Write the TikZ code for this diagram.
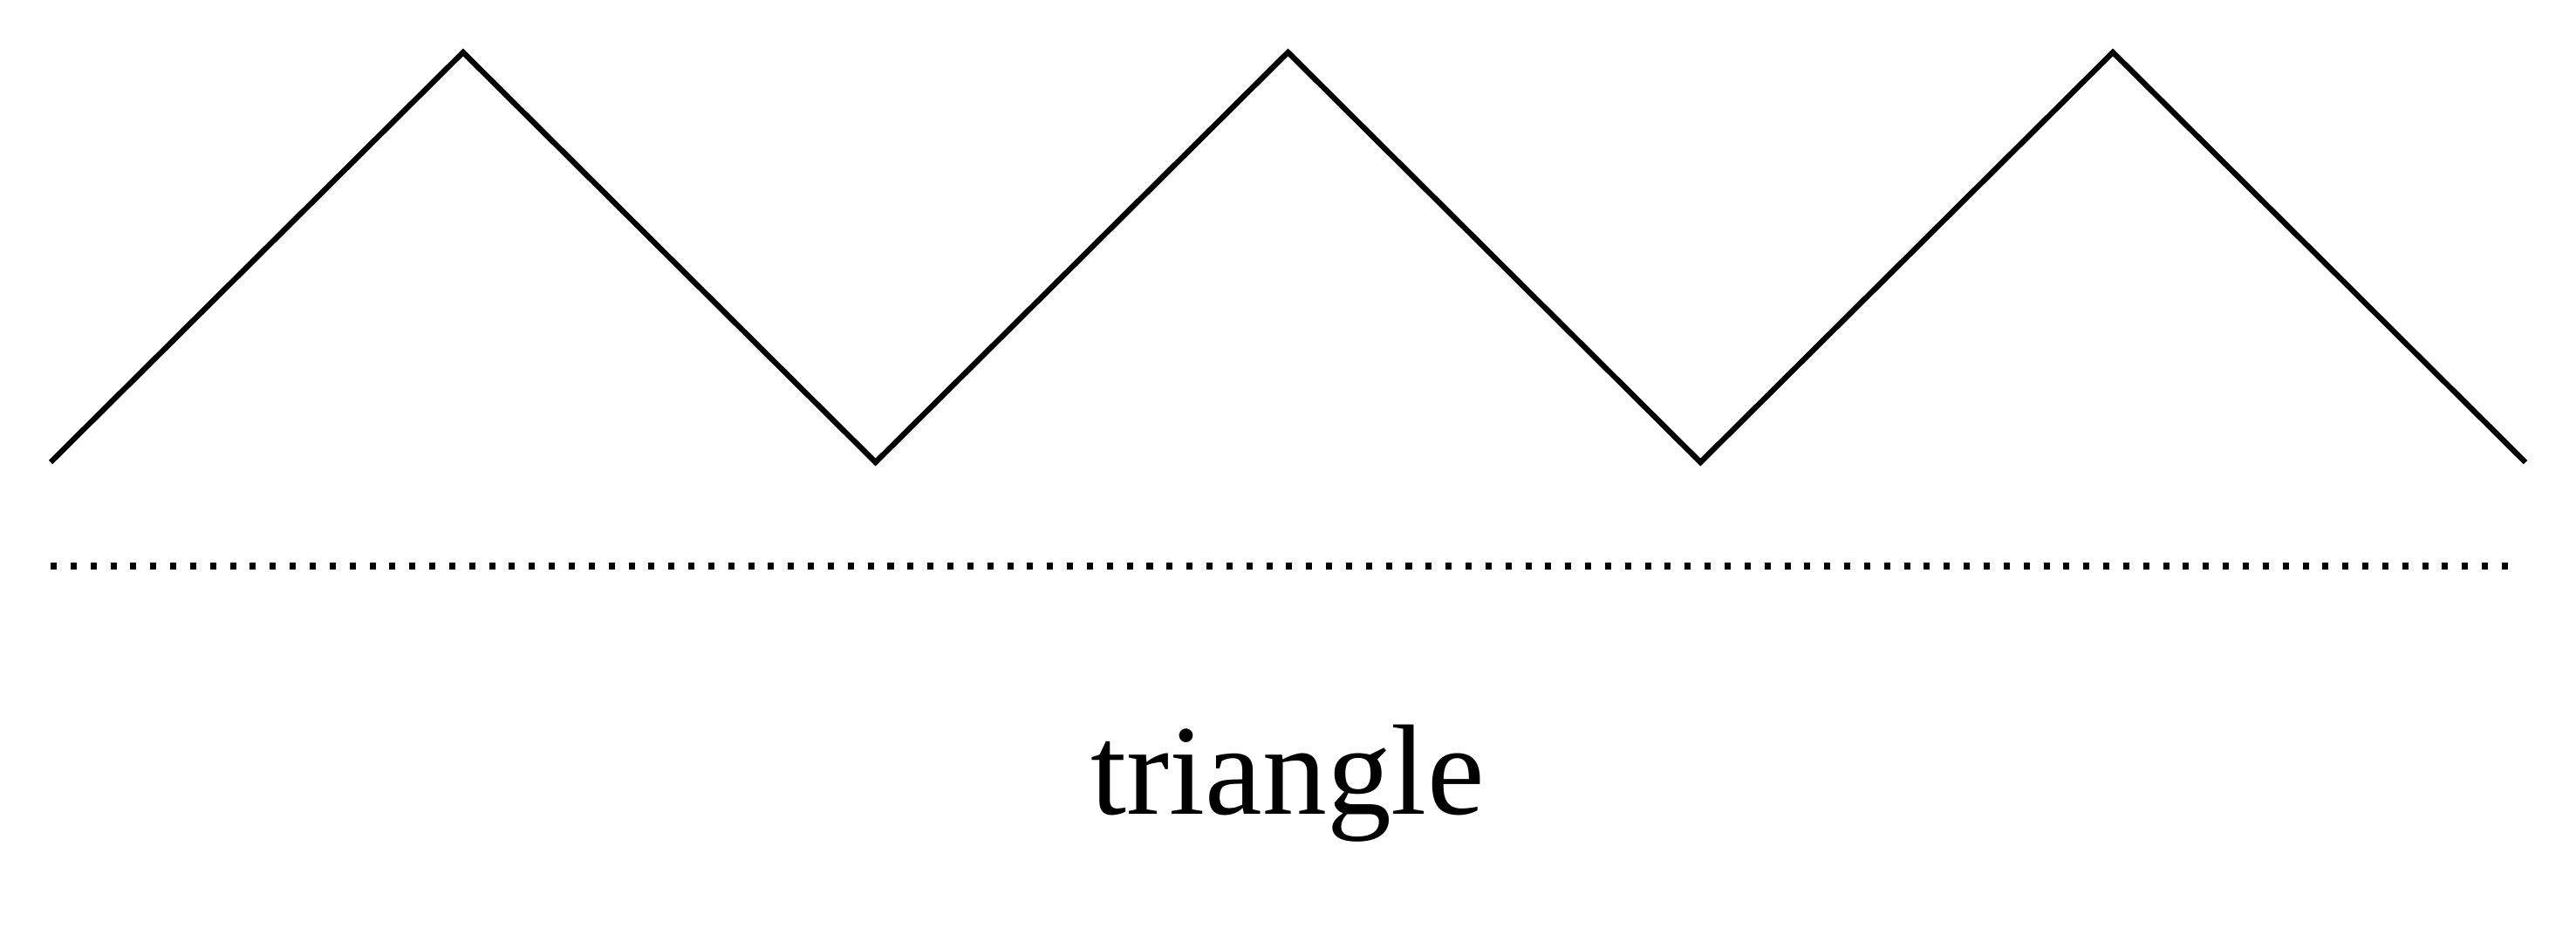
\documentclass[tikz,border=0pt]{standalone}
\usepackage{fontspec}
\setmainfont{Liberation Serif}
\begin{document}
\begin{tikzpicture}[wave/.style={line width=1.8pt,line join=miter},
    guide/.style={line width=2pt,dash pattern=on 2pt off 4.5pt},
    lbl/.style={anchor=base,inner sep=0pt,font=\fontsize{42}{46}\selectfont}]
    \useasboundingbox (0,0) rectangle (29.53,-10.72);

    % corners of the wave
    \foreach \i in {0,...,6} {
      \pgfmathsetmacro{\xx}{0.58+4.7283*\i}
      \ifodd\i
        \coordinate (p\i) at (\xx,-0.60);
      \else
        \coordinate (p\i) at (\xx,-5.30);
      \fi
    }
    \draw[wave] (p0) -- (p1) -- (p2) -- (p3) -- (p4) -- (p5) -- (p6);

    \coordinate (gl) at (0.58,-6.49);
    \coordinate (gr) at (28.82,-6.49);
    \draw[guide] (gl) -- (gr);

    \node[lbl] (name) at (14.76,-9.34) {triangle};
  \end{tikzpicture}
\end{document}
